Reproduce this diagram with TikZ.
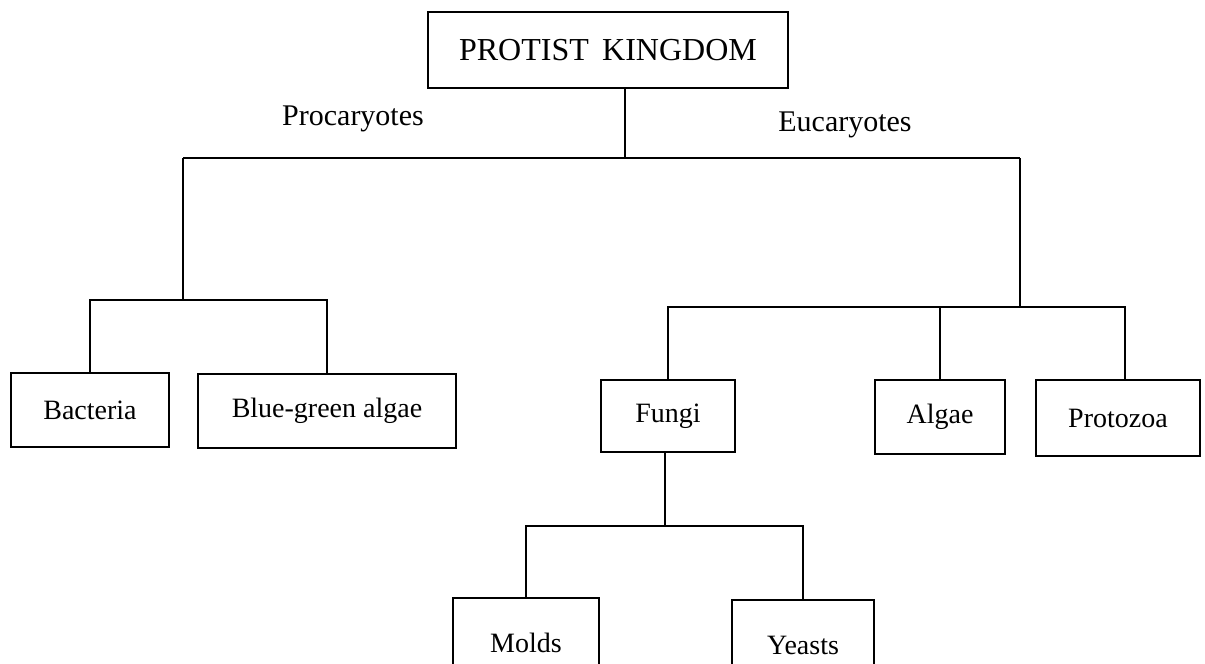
\documentclass[tikz,border=0pt]{standalone}
\usepackage{fontspec}
\setmainfont{Liberation Serif}
\begin{document}
\begin{tikzpicture}[x=1pt,y=-1pt,
  box/.style={draw,line width=1.8pt,inner sep=0pt,font=\fontsize{28}{32}\selectfont},
  lbl/.style={inner sep=0pt,font=\fontsize{30}{34}\selectfont},
  conn/.style={line width=1.8pt}]
\clip (0,0) rectangle (1205,664);
\fill[white] (0,0) rectangle (1205,664);
% boxes
\node[box,minimum width=360pt,minimum height=76pt,font=\fontsize{32}{36}\selectfont] (top) at (608,50) {PROTIST\, KINGDOM};
\node[box,minimum width=158pt,minimum height=74pt] (bact) at (90,410) {Bacteria};
\node[box,minimum width=258pt,minimum height=74pt] (bga) at (327,411) {Blue-green algae};
\node[box,minimum width=134pt,minimum height=72pt] (fungi) at (668,416) {Fungi};
\node[box,minimum width=130pt,minimum height=74pt] (algae) at (940,417) {Algae};
\node[box,minimum width=164pt,minimum height=76pt] (proto) at (1118,418) {Protozoa};
\node[box,minimum width=146pt,minimum height=90pt] (molds) at (526,643) {Molds};
\node[box,minimum width=142pt,minimum height=90pt] (yeasts) at (803,645) {Yeasts};
% labels
\node[lbl] (pro) at (353,119) {Procaryotes};
\node[lbl] (euc) at (845,125) {Eucaryotes};
% junctions
\coordinate (j0) at (625,158);
\coordinate (jL) at (183,158);
\coordinate (jR) at (1020,158);
\coordinate (pL) at (183,300);
\coordinate (pR) at (1020,307);
\coordinate (pF) at (665,526);
% connectors
\draw[conn] (top.south -| j0) -- (j0);
\draw[conn] (jL) -- (jR);
\draw[conn] (jL) -- (pL);
\draw[conn] (jR) -- (pR);
\draw[conn] (bact.north) |- (pL) -| (bga.north);
\draw[conn] (fungi.north) |- (pR) -| ([xshift=7pt]proto.north);
\draw[conn] (algae.north) -- (algae.north |- pR);
\draw[conn] (fungi.south -| pF) -- (pF);
\draw[conn] (molds.north) |- (pF) -| (yeasts.north);
\end{tikzpicture}
\end{document}
